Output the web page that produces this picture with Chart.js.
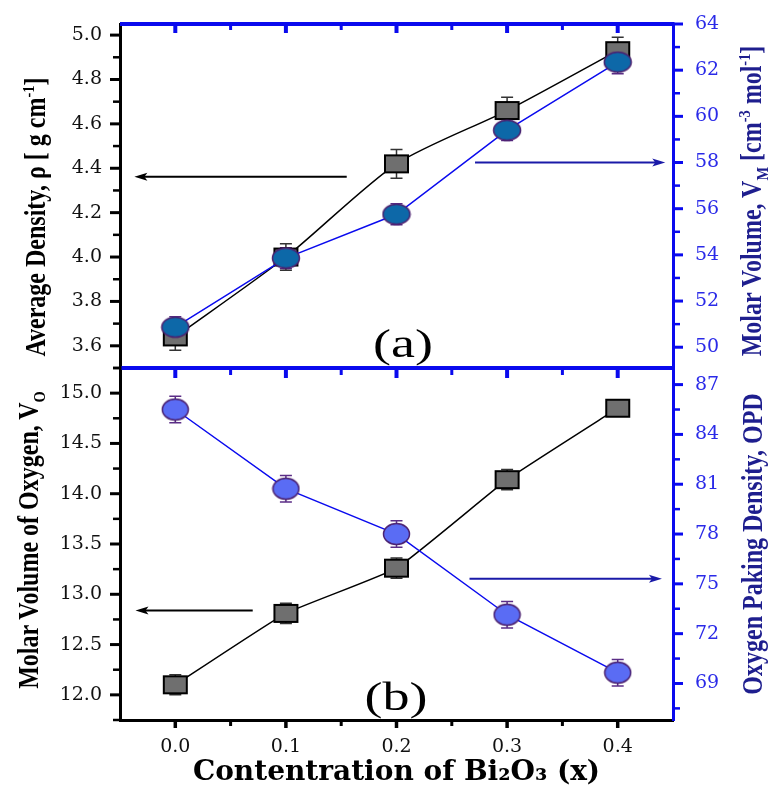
<!DOCTYPE html>
<html><head><meta charset="utf-8">
<script src="https://cdn.jsdelivr.net/npm/chart.js@4/dist/chart.umd.min.js"></script>
<style>
html,body{margin:0;padding:0;background:#fff;}
#wrap{position:relative;width:773px;height:793px;overflow:hidden;background:#fff;}
#c{position:absolute;left:0;top:0;}
.vt{position:absolute;transform:translate(-50%,-50%) rotate(-90deg) scaleY(1.22);white-space:nowrap;font-family:'Liberation Serif','Times New Roman',serif;font-weight:bold;font-size:24px;line-height:1;}
.vt sup,.vt sub{font-size:60%;}
.pl{position:absolute;transform:translate(-50%,-50%) scaleX(1.35);font-family:'Liberation Serif','Times New Roman',serif;font-size:40px;line-height:1;color:#000;white-space:nowrap;}
</style>
</head><body>
<div id="wrap">
<canvas id="c" width="773" height="793"></canvas>
<div class="vt" style="left:35px;top:217px;color:#000;">Average Density, ρ [ g cm<sup>-1</sup>]</div>
<div class="vt" style="left:753px;top:201px;color:#1e1e8e;">Molar Volume, V<sub>M</sub> [cm<sup>-3</sup> mol<sup>-1</sup>]</div>
<div class="vt" style="left:31px;top:540px;color:#000;">Molar Volume of Oxygen, V<sub>O</sub></div>
<div class="vt" style="left:752px;top:544px;color:#1e1e8e;">Oxygen Paking Density, OPD</div>
<div class="pl" style="left:403px;top:344px;">(a)</div>
<div class="pl" style="left:396px;top:697px;">(b)</div>
</div>
<script>
// ---- data ----
const xValues = [0.0, 0.1, 0.2, 0.3, 0.4];
const density = [3.64, 4.00, 4.42, 4.66, 4.93];
const densityErr = [0.06, 0.06, 0.065, 0.06, 0.06];
const molarVolume = [50.87, 53.86, 55.76, 59.40, 62.35];
const molarVolumeErr = [0.45, 0.45, 0.45, 0.45, 0.5];
const oxygenVolume = [12.10, 12.81, 13.26, 14.14, 14.85];
const oxygenVolumeErr = [0.1, 0.1, 0.1, 0.1, 0.06];
const opd = [85.5, 80.73, 78.0, 73.14, 69.65];
const opdErr = [0.8, 0.8, 0.8, 0.8, 0.8];
// annotation arrows: [xFrom, xTo, yValue]
const densityArrow = [0.155, -0.037, 4.362];
const molarVolumeArrow = [0.271, 0.443, 58.0];
const oxygenVolumeArrow = [0.07, -0.036, 12.84];
const opdArrow = [0.266, 0.44, 75.3];

const BLUE = '#0a0aee';
const pts = (ys) => xValues.map((x, i) => ({x: x, y: ys[i]}));

function makeRect(w, h, fill, stroke, lw) {
  const c = document.createElement('canvas');
  c.width = w + lw * 2; c.height = h + lw * 2;
  const g = c.getContext('2d');
  g.fillStyle = fill; g.strokeStyle = stroke; g.lineWidth = lw;
  g.fillRect(lw, lw, w, h); g.strokeRect(lw, lw, w, h);
  return c;
}
function makeEllipse(w, h, fill, stroke, lw) {
  const c = document.createElement('canvas');
  c.width = w + lw * 2; c.height = h + lw * 2;
  const g = c.getContext('2d');
  g.fillStyle = fill; g.strokeStyle = stroke; g.lineWidth = lw;
  g.beginPath(); g.ellipse(c.width / 2, c.height / 2, w / 2, h / 2, 0, 0, Math.PI * 2);
  g.fill(); g.stroke();
  return c;
}
const sqStyle = makeRect(23, 17, '#6f6f6f', '#000', 2);
const topCirc = makeEllipse(27, 20, '#0d68a8', '#4b2170', 1.5);
const botCirc = makeEllipse(26, 21, '#5a6cf4', '#4b2170', 1.5);

const isMajorX = v => Math.round(v * 100) % 10 === 0;
const labelFns = {
  x: v => { const k = Math.round(v * 100); return (k % 10 === 0 && k >= 0 && k <= 40) ? (k / 100).toFixed(1) : ''; },
  yDen: v => Math.round(v * 10) % 2 === 0 ? v.toFixed(1) : '',
  yMv: v => Math.round(v) % 2 === 0 ? String(Math.round(v)) : '',
  yVo: v => Math.round(v * 100) % 50 === 0 ? v.toFixed(1) : '',
  yOpd: v => Math.round(v * 10) % 30 === 0 ? String(Math.round(v)) : ''
};

const tickFont = {family: "'DejaVu Serif', serif", size: 19};

function yScale(id, pos, stackWeight, weight, min, max, step, color) {
  return {
    type: 'linear', position: pos, stack: pos === 'left' ? 'L' : 'R', stackWeight: stackWeight, weight: weight,
    min: min, max: max,
    ticks: {stepSize: step, includeBounds: false, autoSkip: false, color: color, font: tickFont, padding: pos === 'left' ? 8 : 12,
      callback: v => labelFns[id](v)},
    grid: {display: false, drawTicks: true, tickLength: 10},
    border: {display: true, color: pos === 'left' ? '#000' : BLUE, width: 3},
    afterFit: s => { s.width = pos === 'left' ? 120 : 100; }
  };
}

const errPlugin = {
  id: 'errbars',
  beforeDatasetsDraw(chart) {
    const ctx = chart.ctx;
    const xs = chart.scales.x;
    chart.data.datasets.forEach(ds => {
      const ys = chart.scales[ds.yAxisID];
      ctx.save();
      ctx.strokeStyle = ds.errColor; ctx.lineWidth = 1.5;
      ds.data.forEach((p, j) => {
        const px = xs.getPixelForValue(p.x);
        const y1 = ys.getPixelForValue(p.y + ds.errs[j]);
        const y2 = ys.getPixelForValue(p.y - ds.errs[j]);
        ctx.beginPath();
        ctx.moveTo(px, y1); ctx.lineTo(px, y2);
        ctx.moveTo(px - 6, y1); ctx.lineTo(px + 6, y1);
        ctx.moveTo(px - 6, y2); ctx.lineTo(px + 6, y2);
        ctx.stroke();
      });
      ctx.restore();
    });
  }
};

function drawArrow(ctx, x1, x2, y, color) {
  ctx.save();
  ctx.strokeStyle = color; ctx.fillStyle = color; ctx.lineWidth = 2;
  const dir = x2 > x1 ? 1 : -1;
  ctx.beginPath(); ctx.moveTo(x1, y); ctx.lineTo(x2 - dir * 8, y); ctx.stroke();
  ctx.beginPath();
  ctx.moveTo(x2, y); ctx.lineTo(x2 - dir * 13, y - 4); ctx.lineTo(x2 - dir * 10, y); ctx.lineTo(x2 - dir * 13, y + 4);
  ctx.closePath(); ctx.fill();
  ctx.restore();
}

const decoPlugin = {
  id: 'deco',
  afterDraw(chart) {
    const ctx = chart.ctx;
    const ca = chart.chartArea;
    const xs = chart.scales.x;
    const yDen = chart.scales.yDen, yMv = chart.scales.yMv, yVo = chart.scales.yVo, yOpd = chart.scales.yOpd;
    ctx.save();
    [[yDen, -1, '#000'], [yVo, -1, '#000'], [yMv, 1, BLUE], [yOpd, 1, BLUE]].forEach(([s, dir, col]) => {
      const ax = dir < 0 ? s.right : s.left;
      s.ticks.forEach(t => {
        const major = t.label !== '' && t.label !== undefined;
        const py = s.getPixelForValue(t.value);
        ctx.strokeStyle = col; ctx.lineWidth = major ? 3 : 2.5;
        ctx.beginPath(); ctx.moveTo(ax, py); ctx.lineTo(ax + dir * (major ? 10 : 7), py); ctx.stroke();
      });
    });
    const divY = yDen.bottom;
    ctx.strokeStyle = BLUE; ctx.lineWidth = 4;
    ctx.beginPath(); ctx.moveTo(ca.left, ca.top); ctx.lineTo(ca.right + 1.5, ca.top); ctx.stroke();
    ctx.beginPath(); ctx.moveTo(ca.left + 1.5, divY); ctx.lineTo(ca.right, divY); ctx.stroke();
    xs.ticks.forEach(t => {
      if (t.value < -0.001 || t.value > 0.449) return;
      const px = xs.getPixelForValue(t.value);
      const major = isMajorX(t.value);
      ctx.strokeStyle = BLUE; ctx.lineWidth = major ? 4 : 3;
      ctx.beginPath(); ctx.moveTo(px, ca.top); ctx.lineTo(px, ca.top + (major ? 9 : 6)); ctx.stroke();
      ctx.beginPath(); ctx.moveTo(px, divY); ctx.lineTo(px, divY + (major ? 10 : 7)); ctx.stroke();
      ctx.strokeStyle = '#000'; ctx.lineWidth = major ? 3.5 : 3;
      ctx.beginPath(); ctx.moveTo(px, ca.bottom); ctx.lineTo(px, ca.bottom + (major ? 8 : 6)); ctx.stroke();
    });
    drawArrow(ctx, xs.getPixelForValue(densityArrow[0]), xs.getPixelForValue(densityArrow[1]), yDen.getPixelForValue(densityArrow[2]), '#000');
    drawArrow(ctx, xs.getPixelForValue(molarVolumeArrow[0]), xs.getPixelForValue(molarVolumeArrow[1]), yMv.getPixelForValue(molarVolumeArrow[2]), '#1a1aa8');
    drawArrow(ctx, xs.getPixelForValue(oxygenVolumeArrow[0]), xs.getPixelForValue(oxygenVolumeArrow[1]), yVo.getPixelForValue(oxygenVolumeArrow[2]), '#000');
    drawArrow(ctx, xs.getPixelForValue(opdArrow[0]), xs.getPixelForValue(opdArrow[1]), yOpd.getPixelForValue(opdArrow[2]), '#1a1aa8');
    ctx.restore();
  }
};

new Chart(document.getElementById('c'), {
  type: 'line',
  data: {
    datasets: [
      {label: 'Molar Volume', data: pts(molarVolume), yAxisID: 'yMv', errs: molarVolumeErr, errColor: '#5b2d86',
       borderColor: BLUE, borderWidth: 1.5, pointStyle: topCirc, pointRadius: 10, tension: 0, order: 1},
      {label: 'Average Density', data: pts(density), yAxisID: 'yDen', errs: densityErr, errColor: '#333',
       borderColor: '#000', borderWidth: 1.5, pointStyle: sqStyle, pointRadius: 10, tension: 0.25, order: 2},
      {label: 'OPD', data: pts(opd), yAxisID: 'yOpd', errs: opdErr, errColor: '#5b2d86',
       borderColor: BLUE, borderWidth: 1.5, pointStyle: botCirc, pointRadius: 10, tension: 0, order: 1},
      {label: 'Molar Volume of Oxygen', data: pts(oxygenVolume), yAxisID: 'yVo', errs: oxygenVolumeErr, errColor: '#333',
       borderColor: '#000', borderWidth: 1.5, pointStyle: sqStyle, pointRadius: 10, tension: 0.12, order: 2}
    ]
  },
  options: {
    responsive: false, animation: false, devicePixelRatio: 1,
    layout: {padding: {top: 24, left: 0, right: 0, bottom: 0}},
    plugins: {legend: {display: false}, tooltip: {enabled: false}},
    scales: {
      x: {
        type: 'linear', position: 'bottom', min: -0.05, max: 0.45,
        ticks: {stepSize: 0.05, autoSkip: false, color: '#111', font: tickFont, padding: 8, maxRotation: 0,
          callback: v => labelFns.x(v)},
        grid: {display: false, drawTicks: true, tickLength: 8},
        border: {display: true, color: '#000', width: 3},
        title: {display: true, text: 'Contentration of Bi₂O₃ (x)', color: '#000',
          font: {family: "'DejaVu Serif', serif", size: 28, weight: 'bold'}, padding: {top: 0, bottom: 3}},
        afterFit: s => { s.height = 73; }
      },
      yDen: yScale('yDen', 'left', 344, 2, 3.5, 5.05, 0.1, '#111'),
      yVo: yScale('yVo', 'left', 352, 1, 11.75, 15.25, 0.25, '#111'),
      yMv: yScale('yMv', 'right', 344, 1, 49.1, 64, 1, '#2a2ae8'),
      yOpd: yScale('yOpd', 'right', 352, 2, 66.8, 88, 1.5, '#2a2ae8')
    }
  },
  plugins: [errPlugin, decoPlugin]
});
</script>
</body></html>
